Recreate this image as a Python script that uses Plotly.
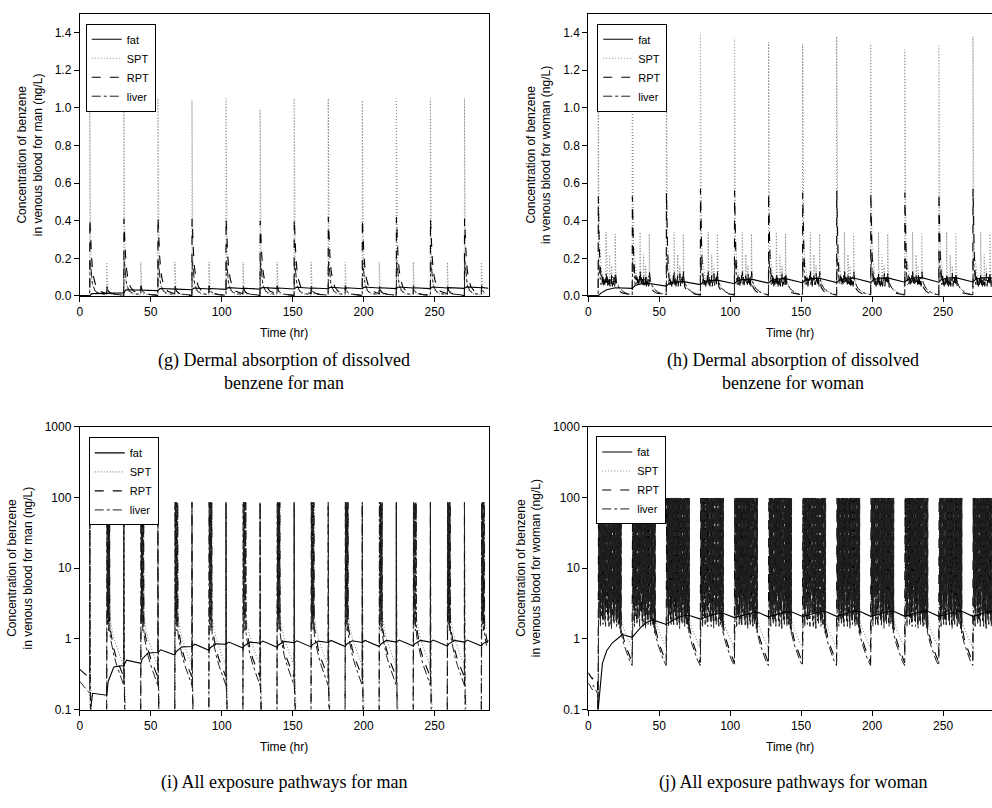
import plotly.graph_objects as go

# ---------------- shared data ----------------
X_END = 288
DAY_STARTS = [7, 31, 55, 79, 103, 127, 151, 175, 199, 223, 247, 271]
X_TICKS = [0, 50, 100, 150, 200, 250]
LIN_TICKS = [0.0, 0.2, 0.4, 0.6, 0.8, 1.0, 1.2, 1.4]
LOG_TICKS = [0.1, 1, 10, 100, 1000]
LOG_TICKTEXT = ["0.1", "1", "10", "100", "1000"]
SERIES = ["fat", "SPT", "RPT", "liver"]

# ---------------- (g) dermal, man ----------------
G_FAT_OFF = [0, 1.5, 12, 13]
G_FAT_VAL = [
    [0.000, 0.012, 0.015, 0.016],
    [0.016, 0.033, 0.029, 0.031],
    [0.028, 0.039, 0.034, 0.036],
    [0.033, 0.042, 0.037, 0.039],
    [0.035, 0.044, 0.039, 0.041],
    [0.036, 0.045, 0.040, 0.042],
    [0.037, 0.046, 0.041, 0.042],
    [0.038, 0.046, 0.041, 0.043],
    [0.038, 0.047, 0.042, 0.043],
    [0.039, 0.047, 0.042, 0.043],
    [0.039, 0.047, 0.042, 0.044],
    [0.040, 0.048, 0.043, 0.044],
]
G_SPT_PEAK = [1.05, 1.04, 1.05, 1.04, 1.05, 0.99, 1.05, 1.05, 1.04, 1.05, 1.05, 1.05]
G_SPT_OFF = [0.0, 0.05, 0.3, 0.8, 1.5, 3.0, 6.0, 11.95, 12.0, 12.3, 12.8, 14.0, 23.95]
G_SPT_VAL = [0.002, None, 0.5, 0.2, 0.08, 0.03, 0.01, 0.005, 0.18, 0.08, 0.03, 0.01, 0.003]
G_RPT_PEAK = [0.41, 0.41, 0.42, 0.41, 0.41, 0.40, 0.41, 0.42, 0.41, 0.42, 0.41, 0.41]
G_RPT_OFF = [0.0, 0.1, 0.6, 1.2, 2.0, 3.0, 4.5, 7.0, 11.9, 12.1, 12.8, 14.5, 18.0, 23.9]
G_RPT_VAL = [0.002, None, 0.3, 0.22, 0.14, 0.09, 0.05, 0.025, 0.012, 0.055, 0.03, 0.015, 0.008, 0.004]
G_LIV_OFF = [0.0, 0.3, 1.0, 2.0, 4.0, 7.0, 11.9, 12.2, 13.0, 16.0, 23.9]
G_LIV_VAL = [0.003, 0.19, 0.12, 0.06, 0.025, 0.012, 0.008, 0.05, 0.025, 0.01, 0.004]

# ---------------- (h) dermal, woman ----------------
H_FAT_OFF = [0, 2, 6, 12]
H_FAT_VAL = [
    [0.000, 0.015, 0.033, 0.043],
    [0.040, 0.055, 0.064, 0.066],
    [0.052, 0.066, 0.074, 0.076],
    [0.060, 0.074, 0.082, 0.084],
    [0.065, 0.079, 0.087, 0.089],
    [0.068, 0.082, 0.090, 0.092],
    [0.070, 0.084, 0.092, 0.094],
    [0.071, 0.085, 0.093, 0.095],
    [0.072, 0.086, 0.094, 0.096],
    [0.073, 0.087, 0.095, 0.097],
    [0.073, 0.087, 0.095, 0.097],
    [0.074, 0.088, 0.096, 0.098],
]
H_SPT_PEAK = [1.38, 1.38, 1.38, 1.40, 1.37, 1.35, 1.34, 1.38, 1.34, 1.31, 1.33, 1.38]
H_SPT_OFF = [0.0, 0.05, 0.3, 0.8, 1.5, 2.5, 3.5, 5.4, 5.5, 5.9, 6.5, 7.9, 8.0, 8.4,
             9.4, 9.5, 9.9, 11.9, 12.0, 12.4, 13.0, 15.0, 20.0, 23.95]
H_SPT_VAL = [0.01, None, 0.6, 0.3, 0.2, 0.12, 0.08, 0.07, 0.34, 0.15, 0.09, 0.08, 0.22, 0.1,
             0.08, 0.16, 0.08, 0.07, 0.33, 0.14, 0.08, 0.04, 0.015, 0.008]
H_RPT_PEAK = [0.53, 0.53, 0.55, 0.57, 0.56, 0.55, 0.55, 0.56, 0.55, 0.55, 0.55, 0.57]
H_RPT_OFF = [0.0, 0.1, 0.5, 1.0, 1.6, 2.2, 2.6, 3.0, 3.4, 3.8, 4.2, 4.6, 5.0, 5.4, 5.6,
             6.0, 6.4, 6.8, 7.2, 7.6, 8.0, 8.4, 8.8, 9.2, 9.6, 10.0, 10.4, 10.8, 11.2,
             11.6, 11.9, 12.1, 12.5, 13.0, 13.6, 15.0, 17.0, 20.0, 23.9]
H_RPT_VAL = [0.005, None, 0.36, 0.22, 0.13, 0.08, 0.11, 0.06, 0.1, 0.05, 0.09, 0.06, 0.11, 0.07, 0.13,
             0.06, 0.1, 0.05, 0.09, 0.06, 0.11, 0.05, 0.08, 0.06, 0.12, 0.05, 0.09, 0.06, 0.1,
             0.05, 0.07, 0.13, 0.07, 0.05, 0.04, 0.025, 0.015, 0.009, 0.005]
H_LIV_OFF = [0, 0.3, 1, 2, 3, 4, 5, 6, 7, 8, 9, 10, 11, 12, 13, 15, 18, 21, 23.9]
H_LIV_VAL = [0.005, 0.2, 0.12, 0.06, 0.07, 0.06, 0.08, 0.1, 0.07, 0.09, 0.08, 0.1, 0.09, 0.11,
             0.07, 0.04, 0.02, 0.01, 0.006]

# ---------------- (i) all pathways, man (log) ----------------
I_FAT_OFF = [0, 2, 12, 13, 17]
I_FAT_VAL = [
    [0.08, 0.17, 0.16, 0.25, 0.40],
    [0.42, 0.50, 0.45, 0.52, 0.63],
    [0.64, 0.70, 0.59, 0.66, 0.77],
    [0.78, 0.84, 0.69, 0.75, 0.85],
    [0.84, 0.90, 0.74, 0.80, 0.90],
    [0.87, 0.93, 0.76, 0.82, 0.92],
    [0.88, 0.94, 0.77, 0.83, 0.93],
    [0.89, 0.95, 0.78, 0.84, 0.94],
    [0.89, 0.95, 0.78, 0.84, 0.95],
    [0.90, 0.96, 0.79, 0.85, 0.95],
    [0.90, 0.96, 0.79, 0.85, 0.95],
    [0.90, 0.96, 0.79, 0.85, 0.95],
]
I_HEAD_T = [0, 2, 4, 6, 6.95]
I_RPT_HEAD = [0.37, 0.34, 0.31, 0.29, 0.28]
I_LIV_HEAD = [0.25, 0.22, 0.20, 0.18, 0.17]
I_SPT_HEAD = [0.05, 0.05, 0.05, 0.05, 0.05]
I_RPT_OFF = [0.0, 0.05, 0.1, 0.6, 1.4, 11.9, 12.0, 12.1, 12.4, 12.5, 12.8, 12.9, 13.2, 13.3,
             13.6, 13.7, 14.0, 14.1, 14.6, 15.5, 17.0, 19.0, 21.0, 23.0, 23.95]
I_RPT_VAL = [0.3, 85, 0.25, 0.14, 0.05, 0.05, 85, 2.8, 85, 2.0, 85, 3.5, 85, 1.7,
             85, 2.4, 85, 1.5, 1.3, 1.0, 0.72, 0.52, 0.40, 0.32, 0.29]
I_SPT_OFF = [0.0, 0.05, 0.1, 0.8, 1.8, 11.9, 12.2, 12.3, 12.6, 12.7, 13.0, 13.1, 13.4, 13.5,
             13.8, 13.9, 14.2, 14.3, 14.8, 15.7, 17.2, 19.2, 21.2, 23.2, 23.95]
I_SPT_VAL = [0.42, 85, 0.38, 0.2, 0.05, 0.05, 85, 3.5, 85, 2.6, 85, 4.5, 85, 2.2,
             85, 3.0, 85, 2.0, 1.7, 1.35, 1.0, 0.75, 0.58, 0.46, 0.42]
I_LIV_OFF = [0.0, 0.05, 0.1, 0.5, 1.2, 11.9, 12.1, 12.2, 12.5, 12.6, 12.9, 13.0, 13.3, 13.4,
             13.7, 13.8, 14.1, 14.2, 14.7, 15.6, 17.1, 19.1, 21.1, 23.1, 23.95]
I_LIV_VAL = [0.22, 85, 0.2, 0.12, 0.04, 0.04, 85, 2.2, 85, 1.6, 85, 2.8, 85, 1.3,
             85, 1.9, 85, 1.2, 1.0, 0.8, 0.58, 0.42, 0.32, 0.26, 0.23]

# ---------------- (j) all pathways, woman (log) ----------------
J_FAT_OFF = [0, 3, 6, 10, 14, 17]
J_FAT_VAL = [
    [0.10, 0.45, 0.68, 0.88, 1.02, 1.15],
    [1.05, 1.25, 1.45, 1.70, 1.85, 1.78],
    [1.60, 1.75, 1.90, 2.05, 2.15, 2.12],
    [1.90, 2.00, 2.10, 2.22, 2.30, 2.27],
    [2.00, 2.08, 2.18, 2.30, 2.38, 2.35],
    [2.05, 2.12, 2.22, 2.35, 2.42, 2.38],
    [2.07, 2.15, 2.25, 2.38, 2.45, 2.40],
    [2.08, 2.16, 2.26, 2.40, 2.47, 2.42],
    [2.08, 2.16, 2.26, 2.40, 2.47, 2.42],
    [2.08, 2.16, 2.26, 2.40, 2.47, 2.42],
    [2.08, 2.16, 2.26, 2.40, 2.47, 2.42],
    [2.08, 2.16, 2.26, 2.40, 2.47, 2.42],
]
J_HEAD_T = [0, 1, 2, 3, 3.5, 5, 6.5, 6.95]
J_RPT_HEAD = [0.33, 0.31, 0.29, 0.27, 0.30, 0.27, 0.25, 0.05]
J_LIV_HEAD = [0.24, 0.22, 0.21, 0.19, 0.22, 0.19, 0.17, 0.05]
J_SPT_HEAD = [0.05, 0.05, 0.05, 0.05, 0.05, 0.05, 0.05, 0.05]
J_SPIKE_OFF = [0.0, 0.6, 1.2, 1.8, 2.4, 3.0, 3.6, 4.2, 4.8, 5.4, 6.0, 6.6, 7.2, 7.8,
               8.4, 9.0, 9.6, 10.2, 10.8, 11.4, 12.0, 12.6, 13.2, 13.8, 14.4, 15.0, 15.6]
J_SPIKE_PEAK = 98
J_RPT_TROUGH = [2.0, 3.5, 1.8, 2.6, 5.0, 1.9, 2.3, 3.8, 1.7, 2.9, 6.0, 2.1, 1.8, 3.2,
                2.4, 1.6, 4.5, 2.2, 1.9, 2.7, 3.6, 1.7, 2.3, 1.9, 2.8, 1.6, 1.4]
J_SPT_TROUGH = [2.6, 4.2, 2.3, 3.1, 7.0, 2.5, 2.9, 5.0, 2.2, 3.6, 8.0, 2.7, 2.4, 4.0,
                3.0, 2.1, 6.0, 2.8, 2.5, 3.4, 4.8, 2.2, 3.0, 2.5, 3.6, 2.1, 1.9]
J_LIV_TROUGH = [1.7, 2.8, 1.5, 2.1, 4.0, 1.6, 1.9, 3.0, 1.5, 2.4, 4.6, 1.8, 1.5, 2.6,
                2.0, 1.4, 3.6, 1.8, 1.6, 2.2, 2.9, 1.5, 1.9, 1.6, 2.3, 1.4, 1.2]
J_DECAY_OFF = [16.2, 18.0, 20.0, 22.0, 23.95]
J_RPT_DECAY = [1.5, 1.0, 0.75, 0.57, 0.46]
J_SPT_DECAY = [1.9, 1.4, 1.1, 0.9, 0.75]
J_LIV_DECAY = [1.2, 0.85, 0.65, 0.5, 0.42]


# ---------------- builders ----------------
def tile(offsets, day_values, head_t=(), head_v=(), tail_t=(), tail_v=()):
    xs, ys = list(head_t), list(head_v)
    for t0, vals in zip(DAY_STARTS, day_values):
        for o, v in zip(offsets, vals):
            if t0 + o <= X_END:
                xs.append(t0 + o)
                ys.append(v)
    xs += list(tail_t)
    ys += list(tail_v)
    return xs, ys


def with_peaks(profile, peaks):
    return [[pk if v is None else v for v in profile] for pk in peaks]


def same_each_day(profile):
    return [list(profile) for _ in DAY_STARTS]


def cluster(shift, troughs, decay_vals):
    offs, vals = [], []
    for o, tr in zip(J_SPIKE_OFF, troughs):
        offs += [o + shift, o + shift + 0.25]
        vals += [tr, J_SPIKE_PEAK]
    offs += J_DECAY_OFF
    vals += decay_vals
    return offs, vals


STYLE = {
    "fat": dict(color="#000000", width=1.1, dash="solid"),
    "SPT": dict(color="#8c8c8c", width=1.1, dash="1px,2px"),
    "RPT": dict(color="#000000", width=1.1, dash="dash"),
    "liver": dict(color="#202020", width=1.0, dash="dashdot"),
}
RANK = {"fat": 1, "SPT": 2, "RPT": 3, "liver": 4}

panels = {}
zero_head_t, zero_head_v = [0, 6.95], [0.0, 0.0]
panels["g"] = {
    "fat": tile(G_FAT_OFF, G_FAT_VAL, zero_head_t, zero_head_v, [X_END], [0.041]),
    "SPT": tile(G_SPT_OFF, with_peaks(G_SPT_VAL, G_SPT_PEAK), zero_head_t, zero_head_v),
    "RPT": tile(G_RPT_OFF, with_peaks(G_RPT_VAL, G_RPT_PEAK), zero_head_t, zero_head_v),
    "liver": tile(G_LIV_OFF, same_each_day(G_LIV_VAL), zero_head_t, zero_head_v),
}
panels["h"] = {
    "fat": tile(H_FAT_OFF, H_FAT_VAL, zero_head_t, zero_head_v, [X_END], [0.085]),
    "SPT": tile(H_SPT_OFF, with_peaks(H_SPT_VAL, H_SPT_PEAK), zero_head_t, zero_head_v),
    "RPT": tile(H_RPT_OFF, with_peaks(H_RPT_VAL, H_RPT_PEAK), zero_head_t, zero_head_v),
    "liver": tile(H_LIV_OFF, same_each_day(H_LIV_VAL), zero_head_t, zero_head_v),
}
panels["i"] = {
    "fat": tile(I_FAT_OFF, I_FAT_VAL, [0, 6.9], [0.05, 0.05], [X_END], [0.92]),
    "SPT": tile(I_SPT_OFF, same_each_day(I_SPT_VAL), I_HEAD_T, I_SPT_HEAD),
    "RPT": tile(I_RPT_OFF, same_each_day(I_RPT_VAL), I_HEAD_T, I_RPT_HEAD),
    "liver": tile(I_LIV_OFF, same_each_day(I_LIV_VAL), I_HEAD_T, I_LIV_HEAD),
}
j_rpt_off, j_rpt_val = cluster(0.0, J_RPT_TROUGH, J_RPT_DECAY)
j_spt_off, j_spt_val = cluster(0.2, J_SPT_TROUGH, J_SPT_DECAY)
j_liv_off, j_liv_val = cluster(0.4, J_LIV_TROUGH, J_LIV_DECAY)
panels["j"] = {
    "fat": tile(J_FAT_OFF, J_FAT_VAL, [0, 6.9], [0.05, 0.05], [X_END], [2.3]),
    "SPT": tile(j_spt_off, same_each_day(j_spt_val), J_HEAD_T, J_SPT_HEAD),
    "RPT": tile(j_rpt_off, same_each_day(j_rpt_val), J_HEAD_T, J_RPT_HEAD),
    "liver": tile(j_liv_off, same_each_day(j_liv_val), J_HEAD_T, J_LIV_HEAD),
}

# ---------------- figure ----------------
W, H = 992, 808
FONT = "Liberation Sans, Arial, sans-serif"
SERIF = "Liberation Serif, Times New Roman, serif"

def px_x(p):
    return p / W

def px_y(p):
    return 1 - p / H

PANEL_AX = {"g": ("x", "y", "legend"), "h": ("x2", "y2", "legend2"),
            "i": ("x3", "y3", "legend3"), "j": ("x4", "y4", "legend4")}

fig = go.Figure()
for key in ["g", "h", "i", "j"]:
    xa, ya, lg = PANEL_AX[key]
    for name in ["SPT", "RPT", "liver", "fat"]:
        xs, ys = panels[key][name]
        fig.add_trace(go.Scatter(
            x=xs, y=ys, mode="lines", name=name, line=STYLE[name],
            xaxis=xa, yaxis=ya, legend=lg, legendrank=RANK[name],
            hoverinfo="skip"))

def xaxis(domain, rng, anchor):
    return dict(domain=domain, range=rng, anchor=anchor, showline=True, linecolor="black",
                linewidth=1, mirror=True, ticks="outside", ticklen=5, tickwidth=1,
                tickcolor="black", tickvals=X_TICKS, showgrid=False, zeroline=False,
                tickfont=dict(size=12, family=FONT, color="black"),
                title=dict(text="Time (hr)", font=dict(size=12, family=FONT, color="black"),
                           standoff=10))

def yaxis(domain, anchor, mirror, log, sex):
    d = dict(domain=domain, anchor=anchor, showline=True, linecolor="black", linewidth=1,
             mirror=mirror, ticks="outside", ticklen=5, tickwidth=1, tickcolor="black",
             showgrid=False, zeroline=False,
             tickfont=dict(size=12, family=FONT, color="black"),
             title=dict(text="Concentration of benzene<br>in venous blood for %s (ng/L)" % sex,
                        font=dict(size=12, family=FONT, color="black"), standoff=9))
    if log:
        d.update(type="log", range=[-1, 3], tickvals=LOG_TICKS, ticktext=LOG_TICKTEXT)
    else:
        d.update(range=[0, 1.5], tickvals=LIN_TICKS, tickformat=".1f")
    return d

LEFT_X = [px_x(77), px_x(487)]
RIGHT_X = [px_x(587), 1.0]
TOP_Y = [px_y(294), px_y(7)]
BOT_Y = [px_y(715), px_y(427)]
RIGHT_RANGE = [0, (W - 587) / ((487 - 77) / X_END)]

def legend(x, y):
    return dict(x=px_x(x), y=px_y(y), xanchor="left", yanchor="top", bgcolor="white",
                bordercolor="black", borderwidth=1, tracegroupgap=0,
                font=dict(size=11, family=FONT, color="black"), itemwidth=30)

fig.update_layout(
    width=W, height=H, margin=dict(l=0, r=0, t=0, b=0),
    paper_bgcolor="white", plot_bgcolor="white",
    font=dict(family=FONT, size=12, color="black"),
    xaxis=xaxis(LEFT_X, [0, X_END], "y"),
    yaxis=yaxis(TOP_Y, "x", True, False, "man"),
    xaxis2=xaxis(RIGHT_X, RIGHT_RANGE, "y2"),
    yaxis2=yaxis(TOP_Y, "x2", False, False, "woman"),
    xaxis3=xaxis(LEFT_X, [0, X_END], "y3"),
    yaxis3=yaxis(BOT_Y, "x3", True, True, "man"),
    xaxis4=xaxis(RIGHT_X, RIGHT_RANGE, "y4"),
    yaxis4=yaxis(BOT_Y, "x4", False, True, "woman"),
    legend=legend(83, 17),
    legend2=legend(596, 17),
    legend3=legend(86, 438),
    legend4=legend(595, 437),
)

CAPTIONS = [
    ("(g) Dermal absorption of dissolved", "benzene for man", (77 + 487) / 2, 360),
    ("(h) Dermal absorption of dissolved", "benzene for woman", (587 + 997) / 2, 360),
]
for l1, l2, cx, cy in CAPTIONS:
    for txt, yy in [(l1, cy), (l2, cy + 23)]:
        fig.add_annotation(text=txt, x=px_x(cx), y=px_y(yy), xref="paper", yref="paper",
                           xanchor="center", yanchor="middle", showarrow=False,
                           font=dict(family=SERIF, size=18, color="black"))
for txt, cx in [("(i) All exposure pathways for man", (77 + 487) / 2),
                ("(j) All exposure pathways for woman", (587 + 997) / 2)]:
    fig.add_annotation(text=txt, x=px_x(cx), y=px_y(789), xref="paper", yref="paper",
                       xanchor="center", yanchor="middle", showarrow=False,
                       font=dict(family=SERIF, size=18, color="black"))

fig.write_html("out.html")
